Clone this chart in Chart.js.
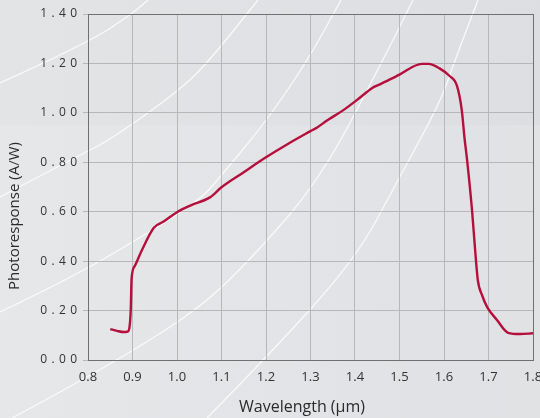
<!DOCTYPE html>
<html>
<head>
<meta charset="utf-8">
<script src="https://cdn.jsdelivr.net/npm/chart.js@4.4.0/dist/chart.umd.min.js"></script>
<style>
  html, body { margin: 0; padding: 0; background: #e1e2e4; }
  #wrap { width: 540px; height: 418px; position: relative; }
</style>
</head>
<body>
<div id="wrap"><canvas id="chart" width="540" height="418"></canvas></div>
<script>
// spectral response curve
const wavelength = [0.85, 0.865, 0.88, 0.889, 0.893, 0.896, 0.898, 0.905, 0.92, 0.948, 0.97, 1.0, 1.03, 1.074, 1.1,
  1.15, 1.2, 1.25, 1.299, 1.315, 1.337, 1.373, 1.41, 1.438, 1.456, 1.5, 1.55, 1.565, 1.59, 1.612, 1.629,
  1.64, 1.646, 1.652, 1.663, 1.67, 1.676, 1.686, 1.697, 1.719, 1.744, 1.771, 1.8];
const response = [0.125, 0.118, 0.113, 0.115, 0.13, 0.2, 0.33, 0.38, 0.44, 0.535, 0.56, 0.598, 0.625, 0.658, 0.699,
  0.76, 0.82, 0.875, 0.925, 0.941, 0.969, 1.01, 1.06, 1.1, 1.115, 1.155, 1.198, 1.198, 1.18, 1.15, 1.11,
  1.01, 0.9, 0.808, 0.606, 0.444, 0.323, 0.26, 0.214, 0.162, 0.11, 0.105, 0.108];

const xTicks = [0.8, 0.9, 1.0, 1.1, 1.2, 1.3, 1.4, 1.5, 1.6, 1.7, 1.8];
const yTicks = [0, 0.2, 0.4, 0.6, 0.8, 1.0, 1.2, 1.4];
const xTitle = 'Wavelength (µm)';
const yTitle = 'Photoresponse (A/W)';

// decorative white swooshes in the page background (canvas pixels)
const swooshes = [
  [[0, 83], [88, 43], [133, 13], [148, 0]],
  [[0, 197], [80, 155], [110, 140], [180, 90], [210, 60], [258, 0]],
  [[0, 312], [67, 280], [140, 238], [200, 200], [220, 177], [265, 123], [308, 60], [341, 0]],
  [[12, 418], [33, 407], [123, 357], [200, 308], [250, 260], [320, 180], [383, 60], [413, 0]],
  [[207, 418], [267, 357], [355, 260], [398, 180], [440, 103], [455, 60], [478, 0]]
];

const background = {
  id: 'background',
  beforeDraw(chart) {
    const ctx = chart.ctx;
    ctx.save();
    const g = ctx.createLinearGradient(0, 0, 540, 0);
    g.addColorStop(0, '#e3e4e6');
    g.addColorStop(1, '#dcdee1');
    ctx.fillStyle = g;
    ctx.fillRect(0, 0, chart.width, chart.height);
    ctx.fillStyle = 'rgba(255,255,255,0.12)';
    ctx.fillRect(0, 125, chart.width, chart.height - 125);
    ctx.strokeStyle = 'rgba(255,255,255,0.8)';
    ctx.lineWidth = 1.3;
    swooshes.forEach(pts => {
      ctx.beginPath();
      ctx.moveTo(pts[0][0], pts[0][1]);
      for (let i = 1; i < pts.length - 1; i++) {
        const mx = (pts[i][0] + pts[i + 1][0]) / 2, my = (pts[i][1] + pts[i + 1][1]) / 2;
        ctx.quadraticCurveTo(pts[i][0], pts[i][1], mx, my);
      }
      const last = pts[pts.length - 1];
      ctx.lineTo(last[0], last[1]);
      ctx.stroke();
    });
    ctx.restore();
  }
};

// box round the plot plus the two axis titles (placed like the original, y title sits low)
const frame = {
  id: 'frame',
  beforeDatasetsDraw(chart) {
    const a = chart.chartArea, ctx = chart.ctx;
    ctx.save();
    ctx.strokeStyle = '#707070';
    ctx.lineWidth = 1;
    ctx.strokeRect(Math.round(a.left) + 0.5, Math.round(a.top) + 0.5, Math.round(a.right - a.left), Math.round(a.bottom - a.top));
    ctx.fillStyle = '#2b2b2b';
    ctx.textAlign = 'center';
    ctx.textBaseline = 'middle';
    ctx.font = '16px "Open Sans"';
    ctx.fillText(xTitle, 302, 407);
    ctx.translate(15, 216);
    ctx.rotate(-Math.PI / 2);
    ctx.font = '15px "Open Sans"';
    ctx.fillText(yTitle, 0, 0);
    ctx.restore();
  }
};

new Chart(document.getElementById('chart'), {
  type: 'line',
  data: {
    datasets: [{
      data: wavelength.map((w, i) => ({ x: w, y: response[i] })),
      borderColor: '#b50f3d',
      borderWidth: 2.4,
      pointRadius: 0,
      cubicInterpolationMode: 'monotone',
      fill: false
    }]
  },
  options: {
    responsive: false,
    animation: false,
    layout: { padding: { top: 14, right: 7, left: 0, bottom: 0 } },
    plugins: { legend: { display: false }, tooltip: { enabled: false } },
    scales: {
      x: {
        type: 'linear',
        min: 0.8, max: 1.8,
        afterBuildTicks: s => { s.ticks = xTicks.map(v => ({ value: v })); },
        ticks: {
          color: '#333',
          font: { family: 'Open Sans', size: 13 },
          padding: 9,
          maxRotation: 0,
          callback: v => v.toFixed(1)
        },
        grid: { color: '#b6b7b9', drawTicks: false },
        border: { color: '#707070' },
        afterFit: s => { s.height = 58; s.paddingLeft = 0; s.paddingRight = 0; }
      },
      y: {
        min: 0, max: 1.4,
        afterBuildTicks: s => { s.ticks = yTicks.map(v => ({ value: v })); },
        ticks: {
          color: '#333',
          font: { family: 'Open Sans', size: 12 },
          padding: 6,
          callback: v => v.toFixed(2).split('').join(' \u200A')
        },
        grid: { color: '#b6b7b9', tickLength: 5 },
        border: { color: '#707070' },
        afterFit: s => { s.width = 88; s.paddingTop = 0; s.paddingBottom = 0; }
      }
    }
  },
  plugins: [background, frame]
});
</script>
</body>
</html>
